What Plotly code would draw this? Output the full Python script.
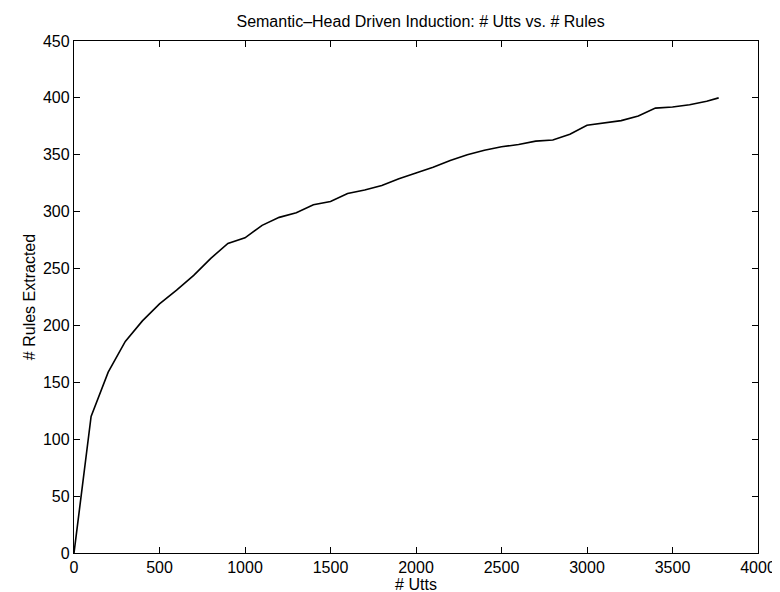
import plotly.graph_objects as go

utts = [0, 100, 200, 300, 400, 500, 600, 700, 800, 900, 1000, 1100, 1200, 1300,
        1400, 1500, 1600, 1700, 1800, 1900, 2000, 2100, 2200, 2300, 2400, 2500,
        2600, 2700, 2800, 2900, 3000, 3100, 3200, 3300, 3400, 3500, 3600, 3700, 3770]
rules = [0, 120, 159, 186, 204, 219, 231, 244, 259, 272, 277, 288, 295, 299,
         306, 309, 316, 319, 323, 329, 334, 339, 345, 350, 354, 357,
         359, 362, 363, 368, 376, 378, 380, 384, 391, 392, 394, 397, 400]

x_ticks = [0, 500, 1000, 1500, 2000, 2500, 3000, 3500, 4000]
y_ticks = [0, 50, 100, 150, 200, 250, 300, 350, 400, 450]

font = "Liberation Sans, Arial, Helvetica, sans-serif"
fsize = 16

fig = go.Figure(go.Scatter(x=utts, y=rules, mode="lines",
                           line=dict(color="black", width=1.6)))

axis_common = dict(showline=True, linecolor="black", linewidth=1.3, mirror="ticks",
                   ticks="inside", ticklen=6, tickcolor="black", tickwidth=1,
                   showgrid=False, zeroline=False,
                   tickfont=dict(family=font, size=fsize, color="black"))

fig.update_xaxes(range=[0, 4000], tickvals=x_ticks,
                 title=dict(text="# Utts", font=dict(family=font, size=fsize, color="black"), standoff=0),
                 **axis_common)
fig.update_yaxes(range=[0, 450], tickvals=y_ticks,
                 title=dict(text="# Rules Extracted", font=dict(family=font, size=fsize, color="black"), standoff=3),
                 **axis_common)

fig.update_layout(
    width=780, height=592,
    margin=dict(l=66, r=21, t=33, b=45),
    paper_bgcolor="white", plot_bgcolor="white",
    showlegend=False,
    title=dict(text="Semantic\u2013Head Driven Induction: # Utts vs. # Rules",
               font=dict(family=font, size=fsize, color="black"),
               x=0.5289, xanchor="center", y=1 - 13 / 592, yanchor="middle"),
)

fig.write_html("out.html")
